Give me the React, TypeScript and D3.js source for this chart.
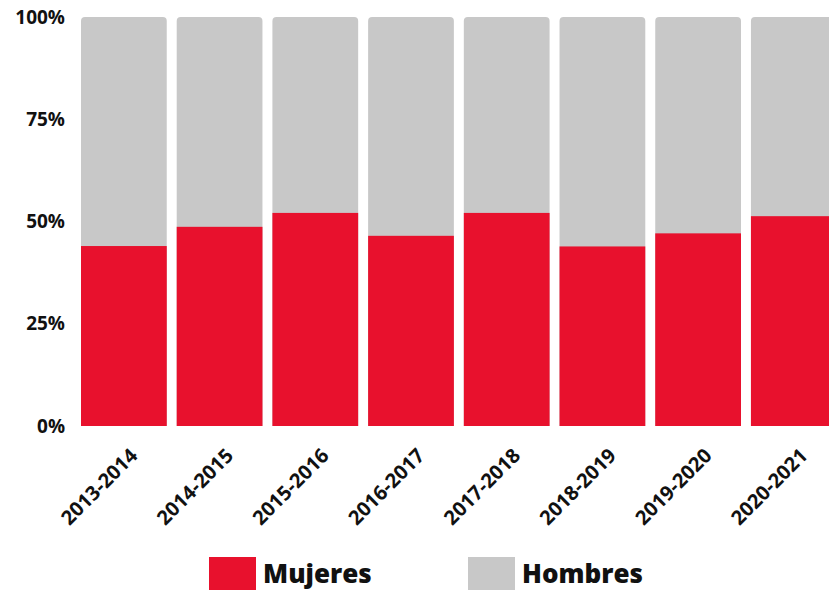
import React from "react";
import * as d3 from "d3";

const categories = ["2013-2014", "2014-2015", "2015-2016", "2016-2017", "2017-2018", "2018-2019", "2019-2020", "2020-2021"];
const mujeres = [0.44, 0.487, 0.521, 0.465, 0.521, 0.439, 0.471, 0.513];
const yTicks = [0, 0.25, 0.5, 0.75, 1];
const legendItems = ["Mujeres", "Hombres"];

const RED = "#e8112d";
const GRAY = "#c8c8c8";
const FONT = "'Open Sans', 'DejaVu Sans', sans-serif";

export default function App() {
  const W = 829;
  const H = 590;
  const x = d3.scaleBand<string>().domain(categories).range([81, 836.7]).paddingInner(0.104).paddingOuter(0);
  const y = d3.scaleLinear().domain([0, 1]).range([426, 17]);
  const bw = x.bandwidth();
  const r = 4;
  const topRounded = (x0: number, y0: number, w: number, h: number) => {
    const p = d3.path();
    p.moveTo(x0, y0 + h);
    p.lineTo(x0, y0 + r);
    p.arcTo(x0, y0, x0 + r, y0, r);
    p.lineTo(x0 + w - r, y0);
    p.arcTo(x0 + w, y0, x0 + w, y0 + r, r);
    p.lineTo(x0 + w, y0 + h);
    p.closePath();
    return p.toString();
  };
  return (
    <svg width={W} height={H} style={{ position: "absolute", left: 0, top: 0, background: "#fff" }} fontFamily={FONT}>
      {categories.map((c, i) => {
        const x0 = x(c)!;
        return (
          <g key={c}>
            <path d={topRounded(x0, y(1), bw, y(0) - y(1))} fill={GRAY} />
            <rect x={x0} y={y(mujeres[i])} width={bw} height={y(0) - y(mujeres[i])} fill={RED} />
          </g>
        );
      })}
      {yTicks.map((t) => (
        <text key={t} x={65} y={y(t)} dy="0.35em" textAnchor="end" fontSize={19} fontWeight={700} fill="#111">
          {d3.format(".0%")(t)}
        </text>
      ))}
      {categories.map((c) => {
        const cx = x(c)! + bw / 2 + 5;
        return (
          <text key={c} transform={`translate(${cx},${447}) rotate(-45)`} textAnchor="end" dy="0.7em" fontSize={20} fontWeight={700} fill="#111">
            {c}
          </text>
        );
      })}
      {legendItems.map((l, i) => {
        const lx = [209, 468][i];
        return (
          <g key={l}>
            <rect x={lx} y={557} width={47} height={33} fill={i === 0 ? RED : GRAY} />
            <text x={lx + 54} y={583} fontSize={26} fontWeight={800} fill="#111">
              {l}
            </text>
          </g>
        );
      })}
    </svg>
  );
}
